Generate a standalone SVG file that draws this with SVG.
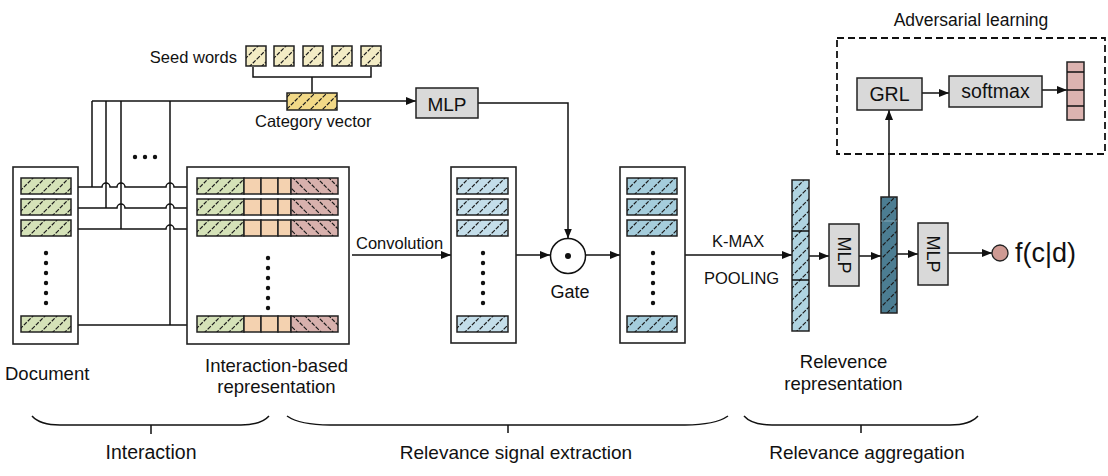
<svg xmlns="http://www.w3.org/2000/svg" width="1108" height="476" viewBox="0 0 1108 476">
<style>
text{font-family:"Liberation Sans",Arial,sans-serif;fill:#111}
.box{fill:#fff;stroke:#222;stroke-width:1.6}
.cell{stroke:#222;stroke-width:1.5}
.gray{fill:#d9d9d9;stroke:#222;stroke-width:1.5}
.ln{fill:none;stroke:#111;stroke-width:1.5}
.arr{fill:none;stroke:#111;stroke-width:1.5;marker-end:url(#ah)}
.hf{fill:url(#hf);stroke:none}
.hb{fill:url(#hb);stroke:none}
.dot{fill:#111}
</style>
<defs>
<marker id="ah" markerUnits="userSpaceOnUse" markerWidth="10" markerHeight="8" refX="10" refY="4" orient="auto"><path d="M0,0 L10,4 L0,8 z" fill="#111"/></marker>
<pattern id="hf" patternUnits="userSpaceOnUse" width="12" height="12"><path d="M-1,13 L13,-1 M-1,1 L1,-1 M11,13 L13,11" stroke="#1a1a1a" stroke-width="1.2" stroke-dasharray="4,1.5"/></pattern>
<pattern id="hb" patternUnits="userSpaceOnUse" width="12" height="12"><path d="M-1,-1 L13,13 M11,-1 L13,1 M-1,11 L1,13" stroke="#1a1a1a" stroke-width="1.2" stroke-dasharray="4,1.5"/></pattern>
<g id="docrow"><rect class="cell" x="0" y="0" width="50" height="16" fill="#d5e2b8"/><rect class="hf" x="0" y="0" width="50" height="16"/></g>
<g id="introw">
<rect class="cell" x="0" y="0" width="47" height="16" fill="#d5e2b8"/><rect class="hf" x="0" y="0" width="47" height="16"/>
<rect class="cell" x="47" y="0" width="17" height="16" fill="#f4d2b0"/>
<rect class="cell" x="64" y="0" width="17" height="16" fill="#f4d2b0"/>
<rect class="cell" x="81" y="0" width="13" height="16" fill="#f4d2b0"/>
<rect class="cell" x="94" y="0" width="47" height="16" fill="#d8b1ad"/><rect class="hb" x="94" y="0" width="47" height="16"/>
</g>
<g id="c1row"><rect class="cell" x="0" y="0" width="51" height="16" fill="#c4deea"/><rect class="hf" x="0" y="0" width="51" height="16"/></g>
<g id="c2row"><rect class="cell" x="0" y="0" width="50" height="16" fill="#a5cddc"/><rect class="hf" x="0" y="0" width="50" height="16"/></g>
<g id="seed"><rect class="cell" x="0" y="0" width="20" height="20" fill="#f3ecc5"/><rect class="hf" x="0" y="0" width="20" height="20"/></g>
<g id="vdots"><circle class="dot" cx="0" cy="0" r="2.2"/><circle class="dot" cx="0" cy="10" r="2.2"/><circle class="dot" cx="0" cy="20" r="2.2"/><circle class="dot" cx="0" cy="30" r="2.2"/><circle class="dot" cx="0" cy="40" r="2.2"/><circle class="dot" cx="0" cy="50" r="2.2"/></g>
</defs>
<rect width="1108" height="476" fill="#fff"/>

<g id="connectors">
<path class="arr" d="M92,101 H416"/>
<path class="ln" d="M92,101 V187 M106,101 V208 M121,101 V229 M170,101 V325"/>
<path class="arr" d="M71,187 H102 a4,4 0 0 1 8,0 H117 a4,4 0 0 1 8,0 H166 a4,4 0 0 1 8,0 H197"/>
<path class="arr" d="M71,208 H117 a4,4 0 0 1 8,0 H166 a4,4 0 0 1 8,0 H197"/>
<path class="arr" d="M71,229 H166 a4,4 0 0 1 8,0 H197"/>
<path class="arr" d="M71,325 H197"/>
<path class="ln" d="M253,67 V77 H371 V67 M312,77 V93"/>
<path class="arr" d="M478,103 H568 V238.5"/>
<path class="arr" d="M352,255 H451"/>
<path class="arr" d="M516,255 H550"/>
<path class="arr" d="M585.5,255 H620"/>
<path class="arr" d="M685,255 H792"/>
<path class="arr" d="M809,256 H829"/>
<path class="arr" d="M859,256 H881"/>
<path class="arr" d="M897,254 H918"/>
<path class="arr" d="M948,253 H992"/>
<path class="arr" d="M889,197 V110"/>
<path class="arr" d="M922,93 H949"/>
<path class="arr" d="M1042,90 H1067"/>
</g>

<g id="seed-words">
<use href="#seed" x="246" y="46"/><use href="#seed" x="274" y="46"/><use href="#seed" x="303" y="46"/><use href="#seed" x="332" y="46"/><use href="#seed" x="361" y="46"/>
<text x="237" y="63" font-size="16.5" text-anchor="end">Seed words</text>
</g>

<g id="category-vector">
<rect class="cell" x="287" y="93" width="50" height="17" fill="#f2d987"/><rect class="hf" x="287" y="93" width="50" height="17"/>
<text x="255" y="127" font-size="16.5">Category vector</text>
</g>

<g id="hdots"><circle class="dot" cx="135" cy="157" r="2.2"/><circle class="dot" cx="145" cy="157" r="2.2"/><circle class="dot" cx="155" cy="157" r="2.2"/></g>

<g id="document">
<rect class="box" x="13" y="167" width="65" height="177"/>
<use href="#docrow" x="21" y="178"/><use href="#docrow" x="21" y="199"/><use href="#docrow" x="21" y="220"/><use href="#docrow" x="21" y="316"/>
<use href="#vdots" x="46" y="253"/>
<text x="5" y="380" font-size="18.5">Document</text>
</g>

<g id="interaction">
<rect class="box" x="187" y="167" width="162" height="177"/>
<use href="#introw" x="197" y="178"/><use href="#introw" x="197" y="199"/><use href="#introw" x="197" y="220"/><use href="#introw" x="197" y="316"/>
<use href="#vdots" x="268" y="258"/>
<text x="276.5" y="372" font-size="18.5" text-anchor="middle">Interaction-based</text>
<text x="276.5" y="393" font-size="18.5" text-anchor="middle">representation</text>
</g>

<g id="mlp-top">
<rect class="gray" x="416" y="88" width="62" height="30"/>
<text x="447" y="111" font-size="19" text-anchor="middle">MLP</text>
</g>

<text x="356" y="249" font-size="16.5">Convolution</text>

<g id="conv1">
<rect class="box" x="451" y="167" width="65" height="176"/>
<use href="#c1row" x="457" y="178"/><use href="#c1row" x="457" y="199"/><use href="#c1row" x="457" y="220"/><use href="#c1row" x="457" y="316"/>
<use href="#vdots" x="483" y="253"/>
</g>

<g id="gate">
<circle cx="568" cy="256" r="17.5" fill="#fff" stroke="#111" stroke-width="1.5"/>
<circle cx="568" cy="256" r="3" fill="#111"/>
<text x="570" y="298" font-size="18" text-anchor="middle">Gate</text>
</g>

<g id="conv2">
<rect class="box" x="620" y="167" width="65" height="176"/>
<use href="#c2row" x="627" y="178"/><use href="#c2row" x="627" y="199"/><use href="#c2row" x="627" y="220"/><use href="#c2row" x="627" y="316"/>
<use href="#vdots" x="653" y="253"/>
</g>

<text x="712" y="247" font-size="16.5">K-MAX</text>
<text x="704" y="284" font-size="16.5">POOLING</text>

<g id="relevance-vector">
<rect class="cell" x="792" y="180" width="17" height="151" fill="#b0d4e1"/>
<rect class="hf" x="792" y="180" width="17" height="151"/>
<path class="ln" d="M792,231 H809 M792,280 H809"/>
<text x="843.5" y="368" font-size="18.5" text-anchor="middle">Relevence</text>
<text x="843.5" y="390" font-size="18.5" text-anchor="middle">representation</text>
</g>

<g id="mlp1">
<rect class="gray" x="829" y="224" width="30" height="62"/>
<text x="0" y="0" font-size="18" text-anchor="middle" transform="translate(837.5,255) rotate(90)">MLP</text>
</g>

<g id="hidden-vector">
<rect class="cell" x="881" y="197" width="16" height="116" fill="#4c7d92"/>
<rect class="hf" x="881" y="197" width="16" height="116"/>
<path d="M881,221 H897" stroke="#8fb3c2" stroke-width="0.8"/>
</g>

<g id="mlp2">
<rect class="gray" x="918" y="223" width="30" height="62"/>
<text x="0" y="0" font-size="18" text-anchor="middle" transform="translate(926.5,254) rotate(90)">MLP</text>
</g>

<g id="output">
<circle cx="1000" cy="253" r="8" fill="#cf9a93" stroke="#222" stroke-width="1.3"/>
<text x="1015" y="262" font-size="27">f(c|d)</text>
</g>

<g id="adversarial">
<rect x="837" y="38" width="268" height="116" fill="none" stroke="#111" stroke-width="1.8" stroke-dasharray="7,4"/>
<text x="971" y="26" font-size="17.5" text-anchor="middle">Adversarial learning</text>
</g>

<g id="grl">
<rect class="gray" x="857" y="78" width="65" height="32"/>
<text x="889.5" y="101" font-size="19.5" text-anchor="middle">GRL</text>
</g>

<g id="softmax">
<rect class="gray" x="949" y="76" width="93" height="31"/>
<text x="995.5" y="98" font-size="19.5" text-anchor="middle">softmax</text>
</g>

<g id="class-vector">
<rect class="cell" x="1067" y="62" width="17" height="58" fill="#dcb3b0"/>
<path class="ln" d="M1067,72 H1084 M1067,90 H1084 M1067,106 H1084"/>
</g>

<g id="braces">
<path class="ln" stroke-width="1.2" d="M32,416 Q40,425 60,425 H241 Q261,425 269,416 M151,425 V434"/>
<path class="ln" stroke-width="1.2" d="M287,416 Q300,425 330,425 H685 Q715,425 728,416 M508,425 V433"/>
<path class="ln" stroke-width="1.2" d="M744,416 Q752,425 772,425 H950 Q970,425 978,416 M861,425 V433"/>
<text x="151" y="459" font-size="19.5" text-anchor="middle">Interaction</text>
<text x="516" y="459" font-size="19" text-anchor="middle">Relevance signal extraction</text>
<text x="867" y="459" font-size="19" text-anchor="middle">Relevance aggregation</text>
</g>
</svg>
